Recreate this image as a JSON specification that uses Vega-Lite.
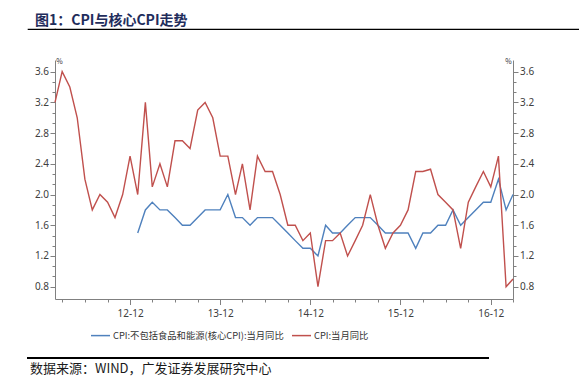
{
  "$schema": "https://vega.github.io/schema/vega-lite/v6.json",
  "autosize": {"type": "pad"},
  "padding": {"left": 27, "top": 13, "right": 0, "bottom": 0},
  "background": "white",
  "bounds": "flush",
  "columns": 2,
  "spacing": {"row": 0, "column": 0},
  "datasets": {
    "core": [
      {"date": "2013-01-01", "value": 1.5}, {"date": "2013-02-01", "value": 1.8}, {"date": "2013-03-01", "value": 1.9},
      {"date": "2013-04-01", "value": 1.8}, {"date": "2013-05-01", "value": 1.8}, {"date": "2013-06-01", "value": 1.7},
      {"date": "2013-07-01", "value": 1.6}, {"date": "2013-08-01", "value": 1.6}, {"date": "2013-09-01", "value": 1.7},
      {"date": "2013-10-01", "value": 1.8}, {"date": "2013-11-01", "value": 1.8}, {"date": "2013-12-01", "value": 1.8},
      {"date": "2014-01-01", "value": 2.0}, {"date": "2014-02-01", "value": 1.7}, {"date": "2014-03-01", "value": 1.7},
      {"date": "2014-04-01", "value": 1.6}, {"date": "2014-05-01", "value": 1.7}, {"date": "2014-06-01", "value": 1.7},
      {"date": "2014-07-01", "value": 1.7}, {"date": "2014-08-01", "value": 1.6}, {"date": "2014-09-01", "value": 1.5},
      {"date": "2014-10-01", "value": 1.4}, {"date": "2014-11-01", "value": 1.3}, {"date": "2014-12-01", "value": 1.3},
      {"date": "2015-01-01", "value": 1.2}, {"date": "2015-02-01", "value": 1.6}, {"date": "2015-03-01", "value": 1.5},
      {"date": "2015-04-01", "value": 1.5}, {"date": "2015-05-01", "value": 1.6}, {"date": "2015-06-01", "value": 1.7},
      {"date": "2015-07-01", "value": 1.7}, {"date": "2015-08-01", "value": 1.7}, {"date": "2015-09-01", "value": 1.6},
      {"date": "2015-10-01", "value": 1.5}, {"date": "2015-11-01", "value": 1.5}, {"date": "2015-12-01", "value": 1.5},
      {"date": "2016-01-01", "value": 1.5}, {"date": "2016-02-01", "value": 1.3}, {"date": "2016-03-01", "value": 1.5},
      {"date": "2016-04-01", "value": 1.5}, {"date": "2016-05-01", "value": 1.6}, {"date": "2016-06-01", "value": 1.6},
      {"date": "2016-07-01", "value": 1.8}, {"date": "2016-08-01", "value": 1.6}, {"date": "2016-09-01", "value": 1.7},
      {"date": "2016-10-01", "value": 1.8}, {"date": "2016-11-01", "value": 1.9}, {"date": "2016-12-01", "value": 1.9},
      {"date": "2017-01-01", "value": 2.2}, {"date": "2017-02-01", "value": 1.8}, {"date": "2017-03-01", "value": 2.0}
    ],
    "cpi": [
      {"date": "2012-02-01", "value": 3.2}, {"date": "2012-03-01", "value": 3.6}, {"date": "2012-04-01", "value": 3.4},
      {"date": "2012-05-01", "value": 3.0}, {"date": "2012-06-01", "value": 2.2}, {"date": "2012-07-01", "value": 1.8},
      {"date": "2012-08-01", "value": 2.0}, {"date": "2012-09-01", "value": 1.9}, {"date": "2012-10-01", "value": 1.7},
      {"date": "2012-11-01", "value": 2.0}, {"date": "2012-12-01", "value": 2.5},
      {"date": "2013-01-01", "value": 2.0}, {"date": "2013-02-01", "value": 3.2}, {"date": "2013-03-01", "value": 2.1},
      {"date": "2013-04-01", "value": 2.4}, {"date": "2013-05-01", "value": 2.1}, {"date": "2013-06-01", "value": 2.7},
      {"date": "2013-07-01", "value": 2.7}, {"date": "2013-08-01", "value": 2.6}, {"date": "2013-09-01", "value": 3.1},
      {"date": "2013-10-01", "value": 3.2}, {"date": "2013-11-01", "value": 3.0}, {"date": "2013-12-01", "value": 2.5},
      {"date": "2014-01-01", "value": 2.5}, {"date": "2014-02-01", "value": 2.0}, {"date": "2014-03-01", "value": 2.4},
      {"date": "2014-04-01", "value": 1.8}, {"date": "2014-05-01", "value": 2.5}, {"date": "2014-06-01", "value": 2.3},
      {"date": "2014-07-01", "value": 2.3}, {"date": "2014-08-01", "value": 2.0}, {"date": "2014-09-01", "value": 1.6},
      {"date": "2014-10-01", "value": 1.6}, {"date": "2014-11-01", "value": 1.4}, {"date": "2014-12-01", "value": 1.5},
      {"date": "2015-01-01", "value": 0.8}, {"date": "2015-02-01", "value": 1.4}, {"date": "2015-03-01", "value": 1.4},
      {"date": "2015-04-01", "value": 1.5}, {"date": "2015-05-01", "value": 1.2}, {"date": "2015-06-01", "value": 1.4},
      {"date": "2015-07-01", "value": 1.6}, {"date": "2015-08-01", "value": 2.0}, {"date": "2015-09-01", "value": 1.6},
      {"date": "2015-10-01", "value": 1.3}, {"date": "2015-11-01", "value": 1.5}, {"date": "2015-12-01", "value": 1.6},
      {"date": "2016-01-01", "value": 1.8}, {"date": "2016-02-01", "value": 2.3}, {"date": "2016-03-01", "value": 2.3},
      {"date": "2016-04-01", "value": 2.33}, {"date": "2016-05-01", "value": 2.0}, {"date": "2016-06-01", "value": 1.9},
      {"date": "2016-07-01", "value": 1.8}, {"date": "2016-08-01", "value": 1.3}, {"date": "2016-09-01", "value": 1.9},
      {"date": "2016-10-01", "value": 2.1}, {"date": "2016-11-01", "value": 2.3}, {"date": "2016-12-01", "value": 2.1},
      {"date": "2017-01-01", "value": 2.5}, {"date": "2017-02-01", "value": 0.8}, {"date": "2017-03-01", "value": 0.9}
    ]
  },
  "concat": [
    {
      "width": 27,
      "height": 0.01,
      "title": {
        "text": "图1：CPI与核心CPI走势",
        "anchor": "start",
        "dx": 7,
        "offset": -10,
        "baseline": "alphabetic",
        "font": "Noto Sans CJK SC",
        "fontSize": 14,
        "fontWeight": "bold",
        "color": "#1F2D5C"
      },
      "data": {"values": []},
      "mark": "point",
      "view": {"stroke": "#000000", "strokeWidth": 1.2}
    },
    {
      "width": 524,
      "height": 0.01,
      "data": {"values": []},
      "mark": "point",
      "view": {"stroke": "#000000", "strokeWidth": 1.2}
    },
    {"width": 27, "height": 30, "data": {"values": []}, "mark": "point", "view": {"stroke": null}},
    {"width": 458, "height": 30, "data": {"values": []}, "mark": "point", "view": {"stroke": null}},
    {"width": 27, "height": 239, "data": {"values": []}, "mark": "point", "view": {"stroke": null}},
    {
      "width": 458,
      "height": 239,
      "view": {"stroke": null},
      "resolve": {"scale": {"y": "independent"}},
      "encoding": {
        "x": {
          "field": "date",
          "type": "temporal",
          "scale": {
            "type": "utc",
            "domain": [
              {"year": 2012, "month": 2, "date": 1, "utc": true},
              {"year": 2017, "month": 3, "date": 1, "utc": true}
            ]
          },
          "axis": {
            "title": null,
            "grid": false,
            "values": [
              {"year": 2012, "month": 3, "date": 1, "utc": true},
              {"year": 2012, "month": 6, "date": 1, "utc": true},
              {"year": 2012, "month": 9, "date": 1, "utc": true},
              {"year": 2012, "month": 12, "date": 1, "utc": true},
              {"year": 2013, "month": 3, "date": 1, "utc": true},
              {"year": 2013, "month": 6, "date": 1, "utc": true},
              {"year": 2013, "month": 9, "date": 1, "utc": true},
              {"year": 2013, "month": 12, "date": 1, "utc": true},
              {"year": 2014, "month": 3, "date": 1, "utc": true},
              {"year": 2014, "month": 6, "date": 1, "utc": true},
              {"year": 2014, "month": 9, "date": 1, "utc": true},
              {"year": 2014, "month": 12, "date": 1, "utc": true},
              {"year": 2015, "month": 3, "date": 1, "utc": true},
              {"year": 2015, "month": 6, "date": 1, "utc": true},
              {"year": 2015, "month": 9, "date": 1, "utc": true},
              {"year": 2015, "month": 12, "date": 1, "utc": true},
              {"year": 2016, "month": 3, "date": 1, "utc": true},
              {"year": 2016, "month": 6, "date": 1, "utc": true},
              {"year": 2016, "month": 9, "date": 1, "utc": true},
              {"year": 2016, "month": 12, "date": 1, "utc": true},
              {"year": 2017, "month": 3, "date": 1, "utc": true}
            ],
            "labelExpr": "utcmonth(datum.value) == 11 ? utcFormat(datum.value, '%y-%m') : ''",
            "tickSize": {"condition": {"test": "utcmonth(datum.value) == 11", "value": 5.5}, "value": 3},
            "labelPadding": 3.5,
            "labelFlush": false,
            "labelOverlap": false
          }
        }
      },
      "layer": [
        {
          "data": {"name": "core"},
          "mark": {"type": "line", "strokeWidth": 1.4},
          "encoding": {
            "y": {
              "field": "value",
              "type": "quantitative",
              "scale": {"domain": [0.64, 3.752], "nice": false, "zero": false},
              "axis": {
                "orient": "left",
                "grid": false,
                "values": [0.8, 0.9333, 1.0667, 1.2, 1.3333, 1.4667, 1.6, 1.7333, 1.8667, 2.0, 2.1333, 2.2667, 2.4, 2.5333, 2.6667, 2.8, 2.9333, 3.0667, 3.2, 3.3333, 3.4667, 3.6],
                "labelExpr": "abs(datum.value*2.5 - round(datum.value*2.5)) < 0.01 ? format(datum.value, '.1f') : ''",
                "tickSize": {"condition": {"test": "abs(datum.value*2.5 - round(datum.value*2.5)) < 0.01", "value": 5}, "value": 3},
                "labelPadding": 1.5,
                "labelFlush": false,
                "labelOverlap": false,
                "title": "%",
                "titleAngle": 0,
                "titleX": 4,
                "titleY": 1,
                "titleAlign": "center",
                "titleBaseline": "middle",
                "titleFontSize": 7,
                "titleFontWeight": "normal",
                "titleColor": "#333333"
              }
            },
            "color": {
              "datum": "CPI:不包括食品和能源(核心CPI):当月同比",
              "scale": {
                "domain": ["CPI:不包括食品和能源(核心CPI):当月同比", "CPI:当月同比"],
                "range": ["#4F81BD", "#C0504D"]
              },
              "legend": {
                "orient": "none",
                "legendX": 62,
                "legendY": 296,
                "direction": "horizontal",
                "title": null,
                "symbolType": "stroke",
                "symbolSize": 361,
                "symbolStrokeWidth": 1.5,
                "labelFont": "Noto Sans CJK SC",
                "labelFontSize": 9.3,
                "labelColor": "#333333",
                "labelLimit": 400,
                "labelOffset": 2,
                "columnPadding": 5,
                "padding": 0
              }
            }
          }
        },
        {
          "data": {"name": "cpi"},
          "mark": {"type": "line", "strokeWidth": 1.4},
          "encoding": {
            "y": {
              "field": "value",
              "type": "quantitative",
              "scale": {"domain": [0.64, 3.752], "nice": false, "zero": false},
              "axis": {
                "orient": "right",
                "grid": false,
                "values": [0.8, 0.9333, 1.0667, 1.2, 1.3333, 1.4667, 1.6, 1.7333, 1.8667, 2.0, 2.1333, 2.2667, 2.4, 2.5333, 2.6667, 2.8, 2.9333, 3.0667, 3.2, 3.3333, 3.4667, 3.6],
                "labelExpr": "abs(datum.value*2.5 - round(datum.value*2.5)) < 0.01 ? format(datum.value, '.1f') : ''",
                "tickSize": {"condition": {"test": "abs(datum.value*2.5 - round(datum.value*2.5)) < 0.01", "value": 5}, "value": 3},
                "labelPadding": 1.5,
                "labelFlush": false,
                "labelOverlap": false,
                "title": "%",
                "titleAngle": 0,
                "titleX": -5,
                "titleY": 1,
                "titleAlign": "center",
                "titleBaseline": "middle",
                "titleFontSize": 7,
                "titleFontWeight": "normal",
                "titleColor": "#333333"
              }
            },
            "color": {"datum": "CPI:当月同比"}
          }
        }
      ]
    },
    {"width": 27, "height": 58.7, "data": {"values": []}, "mark": "point", "view": {"stroke": null}},
    {"width": 433, "height": 58.7, "data": {"values": []}, "mark": "point", "view": {"stroke": null}},
    {
      "width": 27,
      "height": 0.01,
      "title": {
        "text": "数据来源：WIND，广发证券发展研究中心",
        "orient": "bottom",
        "anchor": "start",
        "dx": 2,
        "offset": 5,
        "baseline": "top",
        "font": "Noto Sans CJK SC",
        "fontSize": 13,
        "fontWeight": "normal",
        "color": "#1A1A1A"
      },
      "data": {"values": []},
      "mark": "point",
      "view": {"stroke": "#000000", "strokeWidth": 2}
    },
    {
      "width": 433,
      "height": 0.01,
      "data": {"values": []},
      "mark": "point",
      "view": {"stroke": "#000000", "strokeWidth": 2}
    }
  ],
  "config": {
    "view": {"stroke": null},
    "font": "Noto Sans CJK SC",
    "axis": {
      "domainColor": "#808080",
      "domainWidth": 1,
      "tickColor": "#808080",
      "tickWidth": 1,
      "labelFont": "Noto Sans",
      "labelFontSize": 10,
      "labelColor": "#404040"
    }
  }
}
